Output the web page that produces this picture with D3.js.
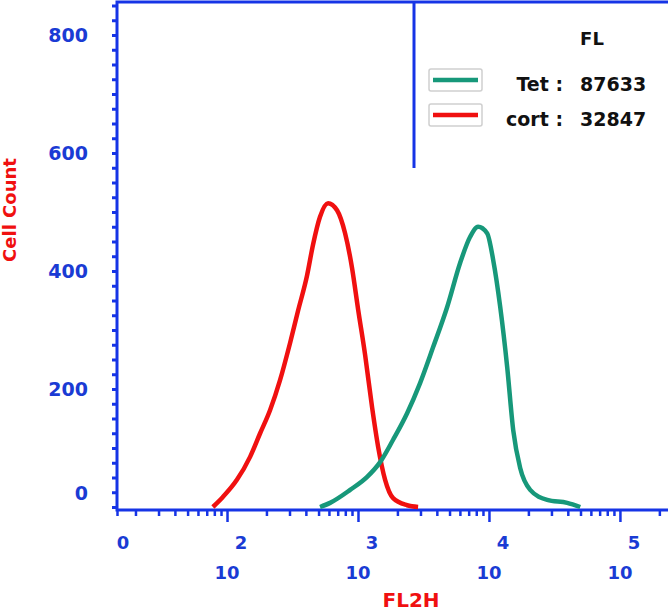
<!DOCTYPE html>
<html lang="en">
  <head>
    <meta charset="utf-8">
    <title>FL2H histogram</title>
    <script src="https://d3js.org/d3.v7.min.js"></script>
    <style>
      body { margin: 0; background: #fff; }
      text { font-family: "DejaVu Sans", Verdana, sans-serif; font-weight: bold; }
    </style>
  </head>
  <body>
    <script>
    // FL2H channel value (log axis) and cell count
    const cortFL2H = [78, 93, 119, 150, 179, 213, 254, 303, 349, 408, 454, 513, 591, 692, 797, 901, 1002, 1133, 1281, 1425, 1611, 1854, 2372, 2877]
    const cortCounts = [0, 17, 46, 85, 125, 164, 215, 278, 333, 392, 445, 492, 515, 503, 464, 405, 335, 258, 169, 102, 46, 15, 3, 0]

    const tetFL2H = [513, 612, 871, 1175, 1476, 1854, 2372, 2979, 3748, 4797, 6030, 7183, 8262, 9683, 10765, 12190, 13780, 15320, 17310, 20640, 27850, 39560, 49770]
    const tetCounts = [0, 7, 29, 51, 76, 114, 159, 210, 271, 339, 414, 458, 475, 464, 419, 339, 237, 130, 66, 29, 12, 7, 0]

    const yLabels = [0, 200, 400, 600, 800]
    const xDecades = [2, 3, 4, 5]
    const legendNames = ["Tet", "cort"]
    const legendValues = ["87633", "32847"]
    const legendTitle = "FL"

    const measurements = {
        width: 668,
        height: 614,
        left: 117,
        top: 2,
        bottom: 510
    }
    const blue = "#1634e6"
    const blueText = "#1a3bd4"
    const red = "#f01010"
    const teal = "#17987a"

    const svgContainer = d3.select("body").append("svg")
        .attr("width", measurements.width)
        .attr("height", measurements.height)

    const scaleX = d3.scaleLog()
        .domain([Math.pow(10, 1.16), Math.pow(10, 5.367)])
        .range([measurements.left, measurements.width])

    const scaleY = d3.scaleLinear()
        .domain([0, 800])
        .range([507, 35])

    drawAxes()
    drawCurve(cortFL2H, cortCounts, red)
    drawCurve(tetFL2H, tetCounts, teal)
    drawLegend()

    function drawAxes() {
        // minor x ticks, then the longer decade ticks
        const decadeValues = xDecades.map(e => Math.pow(10, e))
        const minorValues = [scaleX.domain()[0]].concat(
            scaleX.ticks().filter(v => !decadeValues.includes(v)))

        const xMinor = d3.axisBottom(scaleX).tickValues(minorValues).tickSize(6).tickFormat("")
        const xMajor = d3.axisBottom(scaleX).tickValues(decadeValues).tickSize(12).tickFormat("")

        ;[xMinor, xMajor].forEach(ax => {
            const g = svgContainer.append("g")
                .attr("transform", `translate(0,${measurements.bottom})`)
                .call(ax)
            g.select(".domain").remove()
            g.selectAll("line").attr("stroke", blue).attr("stroke-width", 2.5)
        })

        // y ticks every 25 cells
        const yMinor = d3.axisLeft(scaleY).tickValues(d3.range(0, 851, 25)).tickSize(5).tickFormat("")
        const gy = svgContainer.append("g")
            .attr("transform", `translate(${measurements.left},0)`)
            .call(yMinor)
        gy.select(".domain").remove()
        gy.selectAll("line").attr("stroke", blue).attr("stroke-width", 3)

        // frame
        svgContainer.append("path")
            .attr("d", `M${measurements.width},${measurements.top}H${measurements.left}V${measurements.bottom}H${measurements.width}`)
            .attr("fill", "none")
            .attr("stroke", blue)
            .attr("stroke-width", 3)

        // y labels
        svgContainer.selectAll(".ylab")
            .data(yLabels)
            .enter()
            .append("text")
            .attr("class", "ylab")
            .attr("x", 88)
            .attr("y", d => scaleY(d) + (d === 0 ? -14 : 0))
            .attr("dy", "0.36em")
            .attr("text-anchor", "end")
            .attr("fill", blueText)
            .style("font-size", "19px")
            .text(d => d)

        // x labels: exponent on top line, "10" below
        svgContainer.append("text")
            .attr("x", measurements.left + 6)
            .attr("y", 549)
            .attr("text-anchor", "middle")
            .attr("fill", blueText)
            .style("font-size", "18px")
            .text("0")

        xDecades.forEach(e => {
            const px = scaleX(Math.pow(10, e))
            svgContainer.append("text")
                .attr("x", px + 14)
                .attr("y", 549)
                .attr("text-anchor", "middle")
                .attr("fill", blueText)
                .style("font-size", "18px")
                .text(e)
            svgContainer.append("text")
                .attr("x", px)
                .attr("y", 579)
                .attr("text-anchor", "middle")
                .attr("fill", blueText)
                .style("font-size", "18px")
                .text("10")
        })

        // axis titles
        svgContainer.append("text")
            .attr("transform", "translate(16,210) rotate(-90)")
            .attr("text-anchor", "middle")
            .attr("fill", red)
            .style("font-size", "18px")
            .text("Cell Count")

        svgContainer.append("text")
            .attr("x", 411)
            .attr("y", 607)
            .attr("text-anchor", "middle")
            .attr("fill", red)
            .style("font-size", "20px")
            .text("FL2H")
    }

    function drawCurve(xs, ys, color) {
        const pts = xs.map((x, i) => [scaleX(x), scaleY(ys[i])])
        const line = d3.line().curve(d3.curveMonotoneX)
        svgContainer.append("path")
            .attr("d", line(pts))
            .attr("fill", "none")
            .attr("stroke", color)
            .attr("stroke-width", 4.5)
            .attr("stroke-linejoin", "round")
    }

    function drawLegend() {
        svgContainer.append("line")
            .attr("x1", 414).attr("x2", 414)
            .attr("y1", measurements.top).attr("y2", 168)
            .attr("stroke", blue)
            .attr("stroke-width", 3)

        svgContainer.append("text")
            .attr("x", 592)
            .attr("y", 45)
            .attr("text-anchor", "middle")
            .attr("fill", "#111")
            .style("font-size", "18px")
            .text(legendTitle)

        const colors = [teal, red]
        legendNames.forEach((name, i) => {
            const y = 80 + i * 35
            svgContainer.append("rect")
                .attr("x", 429).attr("y", y - 11)
                .attr("width", 53).attr("height", 22)
                .attr("rx", 2)
                .attr("fill", "#fff")
                .attr("stroke", "#cfcfcf")
                .attr("stroke-width", 1.5)
            svgContainer.append("line")
                .attr("x1", 433).attr("x2", 478)
                .attr("y1", y).attr("y2", y)
                .attr("stroke", colors[i])
                .attr("stroke-width", 4.5)
            svgContainer.append("text")
                .attr("x", 563)
                .attr("y", y + 11)
                .attr("text-anchor", "end")
                .attr("fill", "#111")
                .style("font-size", "19px")
                .text(name + " :")
            svgContainer.append("text")
                .attr("x", 580)
                .attr("y", y + 11)
                .attr("fill", "#111")
                .style("font-size", "19px")
                .text(legendValues[i])
        })
    }
    </script>
  </body>
</html>
